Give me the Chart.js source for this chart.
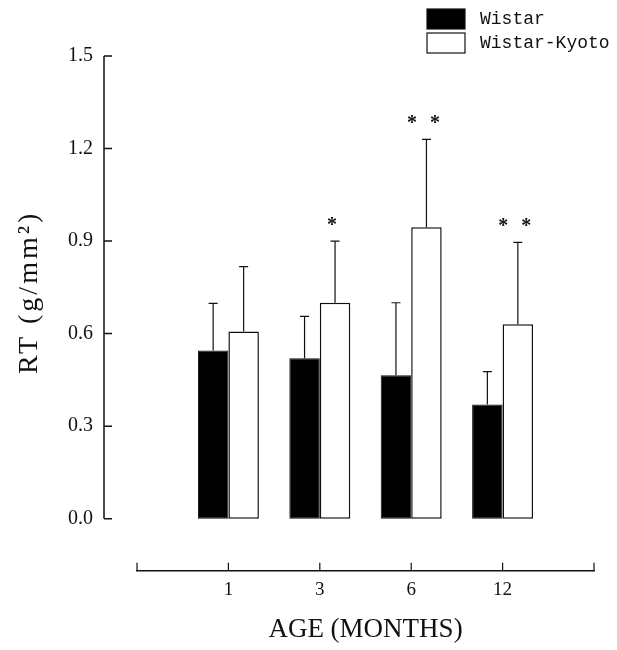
<!DOCTYPE html>
<html>
<head>
<meta charset="utf-8">
<title>RT by age</title>
<script src="https://cdn.jsdelivr.net/npm/chart.js@4.4.1/dist/chart.umd.min.js"></script>
<style>
  html, body { margin: 0; padding: 0; background: #fff; }
  #wrap { width: 617px; height: 650px; }
</style>
</head>
<body>
<div id="wrap"><canvas id="chart" width="617" height="650"></canvas></div>
<script>
const ages = ['1', '3', '6', '12'];
const wistar = [0.545, 0.52, 0.465, 0.37];
const wistarSd = [0.153, 0.136, 0.235, 0.107];
const wistarKyoto = [0.607, 0.70, 0.945, 0.63];
const wistarKyotoSd = [0.21, 0.20, 0.285, 0.266];
const wistarKyotoStars = [0, 1, 2, 2];
const yTicks = [0, 0.3, 0.6, 0.9, 1.2, 1.5];

const serif = "'Liberation Serif', 'DejaVu Serif', serif";
const mono = "'Liberation Mono', 'DejaVu Sans Mono', monospace";
const ink = '#111';

document.addEventListener("DOMContentLoaded", function() {
    const chartElement = document.getElementById('chart').getContext('2d');

    function points(values) {
        return values.map((v, i) => ({ x: i + 1, y: v }));
    }

    // error bars, significance stars, the detached axes and the legend
    const paperAxes = {
        id: 'paperAxes',
        afterDatasetsDraw(chart) {
            const ctx = chart.ctx;
            const yScale = chart.scales.y;
            const errors = [wistarSd, wistarKyotoSd];
            ctx.save();
            ctx.strokeStyle = ink;
            ctx.lineWidth = 1.2;
            chart.data.datasets.forEach((ds, d) => {
                chart.getDatasetMeta(d).data.forEach((bar, i) => {
                    const top = yScale.getPixelForValue(ds.data[i].y + errors[d][i]);
                    ctx.beginPath();
                    ctx.moveTo(bar.x, bar.y);
                    ctx.lineTo(bar.x, top);
                    ctx.moveTo(bar.x - 4.5, top);
                    ctx.lineTo(bar.x + 4.5, top);
                    ctx.stroke();

                    if (d === 1 && wistarKyotoStars[i] > 0) {
                        const n = wistarKyotoStars[i];
                        ctx.fillStyle = ink;
                        ctx.font = 'bold 20px ' + serif;
                        ctx.textAlign = 'center';
                        ctx.textBaseline = 'alphabetic';
                        for (let k = 0; k < n; k++) {
                            const sx = bar.x - 3 + (n === 1 ? 0 : (k === 0 ? -11.5 : 11.5));
                            ctx.fillText('*', sx, top - 20 + 10);
                        }
                    }
                });
            });
            ctx.restore();
        },
        afterDraw(chart) {
            const ctx = chart.ctx;
            const area = chart.chartArea;
            const xScale = chart.scales.x;
            const yScale = chart.scales.y;
            ctx.save();
            ctx.strokeStyle = ink;
            ctx.lineWidth = 1.5;

            // y axis stops at 0.0 and sits left of the x axis
            const ax = area.left - 33;
            const y0 = yScale.getPixelForValue(yTicks[0]);
            const y1 = yScale.getPixelForValue(yTicks[yTicks.length - 1]);
            ctx.beginPath();
            ctx.moveTo(ax, y0);
            ctx.lineTo(ax, y1);
            yTicks.forEach(v => {
                const py = yScale.getPixelForValue(v);
                ctx.moveTo(ax, py);
                ctx.lineTo(ax + 8, py);
            });
            ctx.stroke();

            // x ticks point up
            ctx.lineWidth = 1.2;
            ctx.beginPath();
            xScale.ticks.forEach(t => {
                const px = xScale.getPixelForValue(t.value);
                ctx.moveTo(px, area.bottom);
                ctx.lineTo(px, area.bottom - 8);
            });
            ctx.stroke();

            // y title
            ctx.fillStyle = ink;
            ctx.font = '28px ' + serif;
            if ('letterSpacing' in ctx) ctx.letterSpacing = '3px';
            ctx.textAlign = 'center';
            ctx.textBaseline = 'middle';
            ctx.translate(area.left - 107, (y0 + y1) / 2 + 5);
            ctx.rotate(-Math.PI / 2);
            ctx.fillText('RT (g/mm²)', 0, 0);
            ctx.restore();

            // legend
            ctx.save();
            const lx = chart.width - 190;
            ctx.font = '18px ' + mono;
            ctx.textAlign = 'left';
            ctx.textBaseline = 'middle';
            chart.data.datasets.forEach((ds, d) => {
                const ly = 9 + d * 24;
                ctx.fillStyle = ds.backgroundColor;
                ctx.fillRect(lx, ly, 38, 20);
                ctx.strokeStyle = ink;
                ctx.lineWidth = 1.2;
                ctx.strokeRect(lx, ly, 38, 20);
                ctx.fillStyle = ink;
                ctx.fillText(ds.label, lx + 53, ly + 10);
            });
            ctx.restore();
        }
    };

    new Chart(chartElement, {
        type: 'bar',
        data: {
            datasets: [{
                label: 'Wistar',
                data: points(wistar),
                backgroundColor: '#000',
                borderColor: ink,
                borderWidth: 1,
                borderSkipped: false
            }, {
                label: 'Wistar-Kyoto',
                data: points(wistarKyoto),
                backgroundColor: '#fff',
                borderColor: ink,
                borderWidth: 1.5,
                borderSkipped: false
            }]
        },
        options: {
            responsive: false,
            animation: false,
            categoryPercentage: 0.667,
            barPercentage: 1.0,
            layout: { padding: { top: 56, right: 23, bottom: 4, left: 0 } },
            plugins: {
                legend: { display: false },
                tooltip: { enabled: false }
            },
            scales: {
                x: {
                    type: 'linear',
                    min: 0,
                    max: ages.length + 1,
                    offset: false,
                    grid: { display: false, drawTicks: false, offset: false },
                    border: { display: true, color: ink, width: 1.5 },
                    ticks: {
                        stepSize: 1,
                        autoSkip: false,
                        maxRotation: 0,
                        padding: 8,
                        color: ink,
                        font: { family: serif, size: 19 },
                        callback: v => ages[v - 1] || ''
                    },
                    title: {
                        display: true,
                        text: 'AGE (MONTHS)',
                        color: ink,
                        font: { family: serif, size: 27 },
                        padding: { top: 4, bottom: 0 }
                    }
                },
                y: {
                    min: -0.169,
                    max: 1.5,
                    grid: { display: false, drawTicks: false },
                    border: { display: false },
                    afterBuildTicks: scale => {
                        scale.ticks = yTicks.map(v => ({ value: v }));
                    },
                    afterFit: scale => {
                        scale.width = 137;
                    },
                    ticks: {
                        padding: 44,
                        color: ink,
                        font: { family: serif, size: 20 },
                        callback: v => v.toFixed(1)
                    }
                }
            }
        },
        plugins: [paperAxes]
    });
});
</script>
</body>
</html>
